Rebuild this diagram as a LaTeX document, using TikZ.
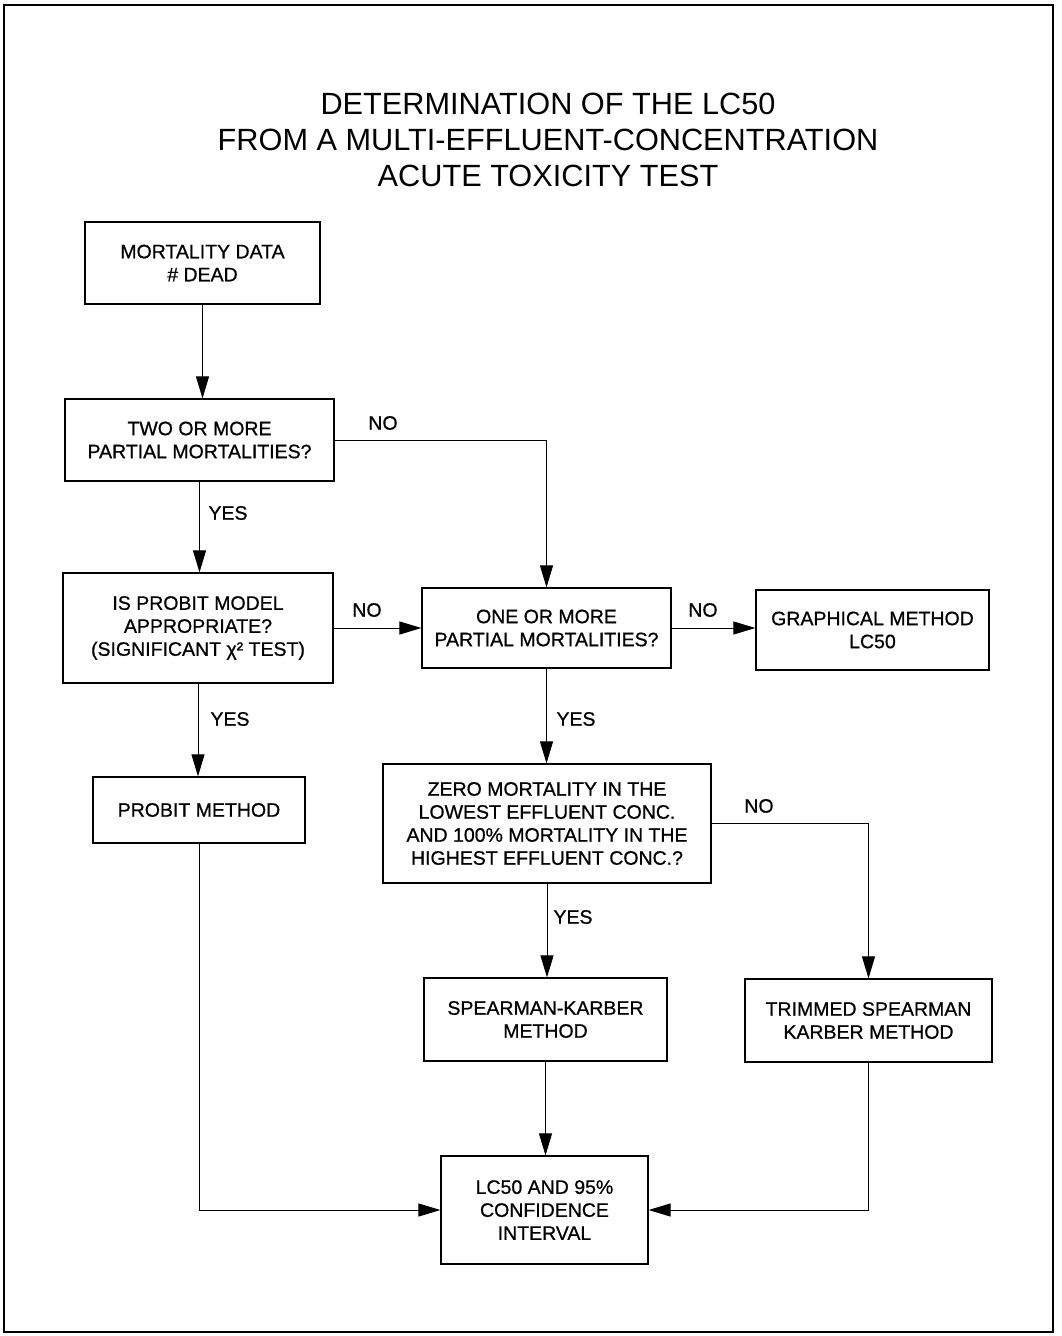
\documentclass[tikz,border=0pt]{standalone}
\usepackage{fontspec}
\setmainfont{Liberation Sans}
\newfontfamily\boxfont{Liberation Sans}[FakeBold=0.7]
\usetikzlibrary{arrows.meta,positioning}

\tikzset{
	every box/.style={draw, line width=1.2pt, align=center, inner sep=0pt,
		font=\boxfont\fontsize{19.5}{23}\selectfont},
	answer/.style={inner sep=0pt, font=\boxfont\fontsize{19.5}{23}\selectfont},
}

\begin{document}
\begin{tikzpicture}[x=1pt, y=-1pt, >={Triangle[length=22pt,width=13pt]}, line width=1pt]
		\useasboundingbox (0,0) rectangle (1061,1336);
		\draw [line width=2pt] (4,5) rectangle (1053,1332);
		
		\node [align=center, inner sep=0pt, font=\fontsize{30.7}{36}\selectfont] (title) at (548,140)
		{DETERMINATION OF THE LC50\\FROM A MULTI-EFFLUENT-CONCENTRATION\\ACUTE TOXICITY TEST};
		
		% left column
		\node [every box, minimum width=235pt, minimum height=82pt] (data) at (202.5,263) {MORTALITY DATA\\\# DEAD};
		\node [every box, minimum width=269pt, minimum height=82pt] (two) at (199.5,440) {TWO OR MORE\\PARTIAL MORTALITIES?};
		\node [every box, minimum width=270pt, minimum height=110pt] (probit) at (198,628) {IS PROBIT MODEL\\APPROPRIATE?\\(SIGNIFICANT χ² TEST)};
		\node [every box, minimum width=212pt, minimum height=66pt] (pmethod) at (199,810) {PROBIT METHOD};
		
		% middle and right
		\node [every box, minimum width=249pt, minimum height=80pt] (one) at (546.5,628) {ONE OR MORE\\PARTIAL MORTALITIES?};
		\node [every box, minimum width=233pt, minimum height=80pt] (graph) at (872.5,630) {GRAPHICAL METHOD\\LC50};
		\node [every box, minimum width=328pt, minimum height=119pt] (zero) at (547,823.5) {ZERO MORTALITY IN THE\\LOWEST EFFLUENT CONC.\\AND 100\% MORTALITY IN THE\\HIGHEST EFFLUENT CONC.?};
		\node [every box, minimum width=243pt, minimum height=83pt] (spear) at (545.5,1019.5) {SPEARMAN-KARBER\\METHOD};
		\node [every box, minimum width=247pt, minimum height=83pt] (trim) at (868.5,1020.5) {TRIMMED SPEARMAN\\KARBER METHOD};
		\node [every box, minimum width=207pt, minimum height=108pt] (lc) at (544.5,1210) {LC50 AND 95\%\\CONFIDENCE\\INTERVAL};
		
		\foreach \n/\t/\x/\y in {no1/NO/383/423, yes1/YES/228/513, no2/NO/367/610, no3/NO/703/610,
			yes2/YES/230/719, yes3/YES/576/719, no4/NO/759/806, yes4/YES/573/917}
		\node [answer] (\n) at (\x,\y) {\t};
		
		\draw [->] (data.south) -- (data.south |- two.north);
		\draw [->] (two.south) -- (two.south |- probit.north);
		\draw [->] (two.east) -| (one.north);
		\draw [->] (probit.east) -- (probit.east -| one.west);
		\draw [->] (probit.south) -- (probit.south |- pmethod.north);
		\draw [->] (one.east) -- (one.east -| graph.west);
		\draw [->] (one.south) -- (one.south |- zero.north);
		\draw [->] (zero.east) -| (trim.north);
		\draw [->] (zero.south) -- (zero.south |- spear.north);
		\draw [->] (spear.south) -- (spear.south |- lc.north);
		\draw [->] (pmethod.south) |- (lc.west);
		\draw [->] (trim.south) |- (lc.east);
		
\end{tikzpicture}
\end{document}
